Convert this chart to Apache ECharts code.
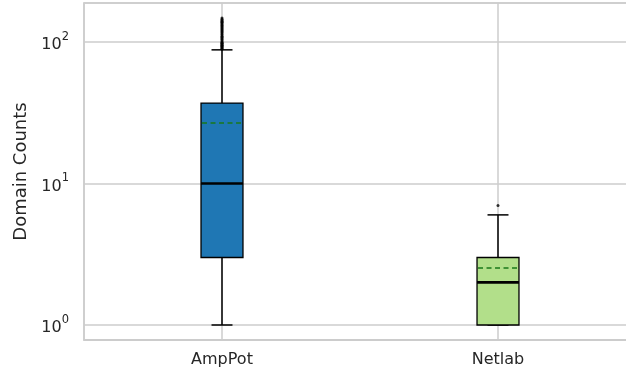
<!DOCTYPE html>
<html>
<head>
<meta charset="utf-8">
<script src="https://cdn.jsdelivr.net/npm/echarts@6/dist/echarts.min.js"></script>
<style>
  html, body { margin: 0; padding: 0; background: #ffffff; overflow: hidden; }
  /* the plot runs slightly past the right edge of the window */
  #chart { width: 637px; height: 376px; }
</style>
</head>
<body>
<div id="chart"></div>
<script>
// Domain counts per honeypot source, summarised as box statistics
const categories = ['AmpPot', 'Netlab'];
const whiskerLow = [1, 1];
const q1 = [3, 1];
const median = [10, 2];
const q3 = [37, 3];
const whiskerHigh = [88, 6];
const mean = [26.8, 2.53];
const boxColors = ['#1f77b4', '#b2df8a'];

// Points beyond the upper whisker
const ampPotOutliers = [89, 90, 91, 92, 93, 94, 95, 96, 97, 98, 99, 100, 102, 104, 106, 108, 110, 112, 114, 116, 118,
  120, 122, 124, 126, 128, 130, 132, 134, 136, 138, 140, 142, 145, 148];
const netlabOutliers = [7];

const tickLabels = { 1: '0', 10: '1', 100: '2' };

const boxData = categories.map((c, i) => [i, whiskerLow[i], q1[i], median[i], q3[i], whiskerHigh[i], mean[i]]);
const outlierData = ampPotOutliers.map(v => [0, v]).concat(netlabOutliers.map(v => [1, v]));

const textColor = '#262626';
const gridColor = '#cccccc';

function renderBox(params, api) {
  const i = api.value(0);
  const band = api.size([1, 0])[0];
  const boxW = band * 0.152;
  const capW = boxW / 2;
  const pLow = api.coord([i, api.value(1)]);
  const pQ1 = api.coord([i, api.value(2)]);
  const pMed = api.coord([i, api.value(3)]);
  const pQ3 = api.coord([i, api.value(4)]);
  const pHigh = api.coord([i, api.value(5)]);
  const pMean = api.coord([i, api.value(6)]);
  const x = pQ1[0];
  const line = { stroke: '#000000', lineWidth: 1.5 };
  return {
    type: 'group',
    children: [
      { type: 'line', shape: { x1: x, y1: pQ3[1], x2: x, y2: pHigh[1] }, style: line },
      { type: 'line', shape: { x1: x, y1: pQ1[1], x2: x, y2: pLow[1] }, style: line },
      { type: 'line', shape: { x1: x - capW / 2, y1: pHigh[1], x2: x + capW / 2, y2: pHigh[1] }, style: line },
      { type: 'line', shape: { x1: x - capW / 2, y1: pLow[1], x2: x + capW / 2, y2: pLow[1] }, style: line },
      { type: 'rect', shape: { x: x - boxW / 2, y: pQ3[1], width: boxW, height: pQ1[1] - pQ3[1] },
        style: { fill: boxColors[i], stroke: '#000000', lineWidth: 1.3 } },
      { type: 'line', shape: { x1: x - boxW / 2, y1: pMed[1], x2: x + boxW / 2, y2: pMed[1] },
        style: { stroke: '#000000', lineWidth: 2.6 } },
      { type: 'line', shape: { x1: x - boxW / 2 + 1, y1: pMean[1], x2: x + boxW / 2 - 1, y2: pMean[1] },
        style: { stroke: '#1a7a1a', lineWidth: 1.5, lineDash: [5, 3.5] } }
    ]
  };
}

const chart = echarts.init(document.getElementById('chart'), null, { renderer: 'canvas' });
chart.setOption({
  animation: false,
  backgroundColor: '#ffffff',
  textStyle: { fontFamily: 'DejaVu Sans', color: textColor },
  grid: { left: 84, right: 1, top: 3, bottom: 36, show: true, borderColor: gridColor, borderWidth: 1.5 },
  xAxis: {
    type: 'category',
    data: categories,
    boundaryGap: true,
    axisLine: { show: true, lineStyle: { color: gridColor, width: 1.5 } },
    axisTick: { show: false, alignWithLabel: true },
    splitLine: { show: true, alignWithLabel: true, lineStyle: { color: gridColor, width: 1.5 } },
    axisLabel: { color: textColor, fontSize: 16, margin: 12, fontFamily: 'DejaVu Sans' }
  },
  yAxis: {
    type: 'log',
    logBase: 10,
    min: 0.7834,
    max: 188.6,
    name: 'Domain Counts',
    nameLocation: 'middle',
    nameGap: 52,
    nameRotate: 90,
    nameTextStyle: { color: textColor, fontSize: 18, fontFamily: 'DejaVu Sans' },
    axisLine: { show: true, lineStyle: { color: gridColor, width: 1.5 } },
    axisTick: { show: false },
    splitLine: { show: true, lineStyle: { color: gridColor, width: 1.5 } },
    axisLabel: {
      showMinLabel: false,
      showMaxLabel: false,
      margin: 15,
      formatter: v => {
        const k = Math.round(v);
        return tickLabels[k] !== undefined ? '{b|10}{s|' + tickLabels[k] + '}' : '';
      },
      rich: {
        b: { fontSize: 16, color: textColor, fontFamily: 'DejaVu Sans', lineHeight: 22, verticalAlign: 'bottom' },
        s: { fontSize: 11.5, color: textColor, fontFamily: 'DejaVu Sans', lineHeight: 22, verticalAlign: 'top' }
      }
    }
  },
  series: [
    {
      type: 'scatter',
      data: outlierData,
      symbol: 'circle',
      symbolSize: 3,
      itemStyle: { color: '#000000' },
      z: 1
    },
    {
      type: 'custom',
      data: boxData,
      renderItem: renderBox,
      encode: { x: 0, y: [1, 2, 3, 4, 5, 6] },
      z: 2
    }
  ]
});
</script>
</body>
</html>
